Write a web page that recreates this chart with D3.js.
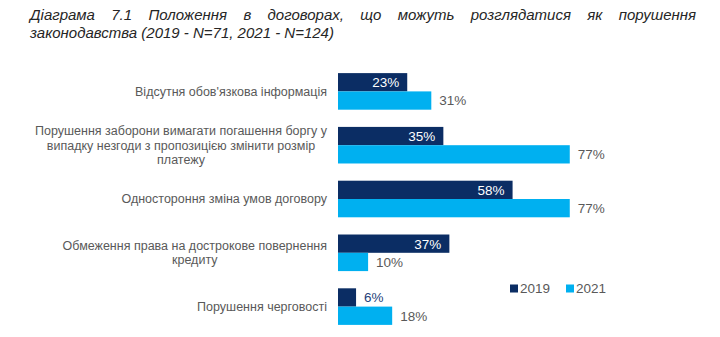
<!DOCTYPE html>
<html><head><meta charset="utf-8">
<script src="https://cdn.jsdelivr.net/npm/d3@7"></script>
<style>html,body{margin:0;padding:0;background:#fff;}svg{display:block;}</style>
</head><body>
<svg id="chart" width="720" height="337"></svg>
<script>
const categories = [
  ["Відсутня обов'язкова інформація"],
  ["Порушення заборони вимагати погашення боргу у", "випадку незгоди з пропозицією змінити розмір", "платежу"],
  ["Одностороння зміна умов договору"],
  ["Обмеження права на дострокове повернення", "кредиту"],
  ["Порушення черговості"]
];
const values2019 = [23, 35, 58, 37, 6];
const values2021 = [31, 77, 77, 10, 18];
const seriesNames = ["2019", "2021"];
const titleLine1 = ["Діаграма", "7.1", "Положення", "в", "договорах,", "що", "можуть", "розглядатися", "як", "порушення"];
const titleLine2 = "законодавства (2019 - N=71, 2021 - N=124)";

const colors = ["#0B2D64", "#00B0F0"];
const font = "'Liberation Sans', Arial, sans-serif";
const svg = d3.select("#chart");

// Title (justified first line)
const tx0 = 30, tx1 = 696;
const tg = svg.append("g").attr("font-family", font).attr("font-size", 15).attr("font-style", "italic").attr("fill", "#262626");
const words = tg.selectAll("text.w").data(titleLine1).join("text").attr("class","w").attr("y", 20).text(d => d);
const widths = [];
words.each(function(){ widths.push(this.getComputedTextLength()); });
const totalW = d3.sum(widths);
const gap = (tx1 - tx0 - totalW) / (titleLine1.length - 1);
let cx = tx0;
words.each(function(d, i){ d3.select(this).attr("x", cx); cx += widths[i] + gap; });
tg.append("text").attr("x", tx0).attr("y", 38).text(titleLine2);

// Scales
const x = d3.scaleLinear().domain([0, 100]).range([338, 639]);
const y = d3.scaleBand().domain(d3.range(categories.length)).range([64.5, 333.5]).paddingInner(0.32).paddingOuter(0.16);
const sub = d3.scaleBand().domain([0, 1]).range([0, y.bandwidth()]);

const data = categories.map((c, i) => ({c, i, v: [values2019[i], values2021[i]]}));
const g = svg.append("g");
const grp = g.selectAll("g.grp").data(data).join("g").attr("class","grp").attr("transform", d => `translate(0,${y(d.i)})`);

grp.selectAll("rect").data(d => d.v.map((v, k) => ({v, k}))).join("rect")
  .attr("x", x(0)).attr("y", d => sub(d.k)).attr("height", sub.bandwidth())
  .attr("width", d => x(d.v) - x(0)).attr("fill", d => colors[d.k]);

grp.selectAll("text.val").data(d => d.v.map((v, k) => ({v, k}))).join("text").attr("class","val")
  .attr("font-family", font).attr("font-size", 13.5)
  .attr("y", d => sub(d.k) + sub.bandwidth()/2).attr("dy", "0.36em")
  .each(function(d){
    const s = d3.select(this);
    const inside = d.k === 0 && d.v >= 15;
    if (inside) s.attr("x", x(d.v) - 8).attr("text-anchor", "end").attr("fill", "#fff");
    else s.attr("x", x(d.v) + 8).attr("text-anchor", "start").attr("fill", d.k === 0 ? "#1F3F7A" : "#595959");
  })
  .text(d => d.v + "%");

// Category labels (lines centered within a right-aligned block)
grp.append("text").attr("font-family", font).attr("font-size", 12.5).attr("fill", "#595959").attr("text-anchor", "middle")
  .each(function(d){
    const t = d3.select(this);
    const n = d.c.length, lh = 14.3;
    const spans = d.c.map((line, j) =>
      t.append("tspan").attr("y", y.bandwidth()/2 + (j - (n-1)/2) * lh).attr("dy", "0.35em").text(line));
    const maxW = d3.max(spans, s => s.node().getComputedTextLength());
    spans.forEach(s => s.attr("x", 327 - maxW/2));
  });

// Legend
const lg = svg.append("g").attr("font-family", font).attr("font-size", 13.5).attr("fill", "#595959");
const legX = [510, 566];
seriesNames.forEach((s, k) => {
  lg.append("rect").attr("x", legX[k]).attr("y", 284.5).attr("width", 8).attr("height", 8).attr("fill", colors[k]);
  lg.append("text").attr("x", legX[k] + 10).attr("y", 288.5).attr("dy", "0.36em").text(s);
});
</script>
</body></html>
